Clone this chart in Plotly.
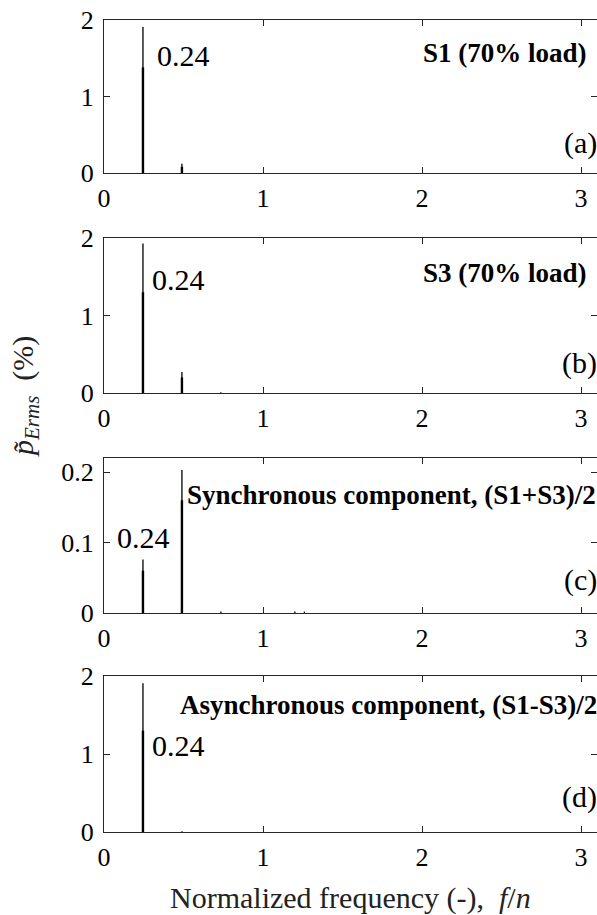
import plotly.graph_objects as go

# ---- data -------------------------------------------------------------
# Spectral peaks (normalized frequency f/n) and RMS amplitudes (%) per panel
freq_a = [0.245, 0.49]
amp_a = [1.91, 0.12]
shoulder_a = [1.38, 0.08]

freq_b = [0.245, 0.49, 0.735]
amp_b = [1.93, 0.27, 0.01]
shoulder_b = [1.30, 0.20, 0.0]

freq_c = [0.245, 0.49, 0.735, 1.20, 1.26]
amp_c = [0.076, 0.203, 0.002, 0.002, 0.002]
shoulder_c = [0.060, 0.160, 0.0, 0.0, 0.0]

freq_d = [0.245, 0.49]
amp_d = [1.906, 0.01]
shoulder_d = [1.30, 0.0]

panel_titles = ["S1 (70% load)", "S3 (70% load)",
                "Synchronous component, (S1+S3)/2",
                "Asynchronous component, (S1-S3)/2"]
panel_tags = ["(a)", "(b)", "(c)", "(d)"]
peak_label = "0.24"
y_ranges = [[0, 2], [0, 2], [0, 0.22], [0, 2]]
y_ticks = [[0, 1, 2], [0, 1, 2], [0, 0.1, 0.2], [0, 1, 2]]
y_ticktext = [["0", "1", "2"], ["0", "1", "2"], ["0", "0.1", "0.2"], ["0", "1", "2"]]
x_ticks = [0, 1, 2, 3]

# ---- layout geometry (pixels) -----------------------------------------
W, H = 597, 915
left_px = 104
panel_px = [(20, 173), (238, 393), (458, 613), (676, 832)]
label_xy = [(0.32, 1.54), (0.29, 1.46), (0.07, 0.107), (0.29, 1.11)]
title_px = [(589, 53), (589, 273), (598, 495), (599, 705)]
tag_px = [(599, 143), (599, 363), (599, 580), (599, 797)]

FONT = "Times New Roman, Liberation Serif, serif"
AXC = "#262626"

series = [(freq_a, amp_a, shoulder_a), (freq_b, amp_b, shoulder_b),
          (freq_c, amp_c, shoulder_c), (freq_d, amp_d, shoulder_d)]


def stems(freqs, vals):
    xs, ys = [], []
    for f, v in zip(freqs, vals):
        if v > 0:
            xs += [f, f, None]
            ys += [0, v, None]
    return xs, ys


fig = go.Figure()
layout = dict(
    width=W, height=H,
    margin=dict(l=0, r=0, t=0, b=0),
    paper_bgcolor="white", plot_bgcolor="white",
    showlegend=False,
    font=dict(family=FONT, color="black", size=26),
)

annotations = []
for i, ((top, bot), (fr, am, sh)) in enumerate(zip(panel_px, series)):
    n = i + 1
    xa = "x" if n == 1 else f"x{n}"
    ya = "y" if n == 1 else f"y{n}"
    # thin line up to the spectral maximum, thicker base from neighbouring bins
    x1, y1 = stems(fr, am)
    fig.add_trace(go.Scatter(x=x1, y=y1, mode="lines", xaxis=xa, yaxis=ya,
                             line=dict(color="black", width=1.3), hoverinfo="skip"))
    x2, y2 = stems(fr, sh)
    fig.add_trace(go.Scatter(x=x2, y=y2, mode="lines", xaxis=xa, yaxis=ya,
                             line=dict(color="black", width=2.4), hoverinfo="skip"))

    axis_common = dict(
        showline=True, linecolor=AXC, linewidth=1.2, mirror="ticks",
        ticks="inside", ticklen=6, tickwidth=1.2, tickcolor=AXC,
        showgrid=False, zeroline=False, automargin=False,
        tickfont=dict(family=FONT, size=26, color="black"),
    )
    layout["xaxis" if n == 1 else f"xaxis{n}"] = dict(
        axis_common, domain=[left_px / W, 1], range=[0, 3.1],
        tickvals=x_ticks, ticktext=[str(t) for t in x_ticks],
        anchor=ya, ticklabelstandoff=2,
    )
    layout["yaxis" if n == 1 else f"yaxis{n}"] = dict(
        axis_common, domain=[1 - bot / H, 1 - top / H], range=y_ranges[i],
        tickvals=y_ticks[i], ticktext=y_ticktext[i],
        anchor=xa, ticklabelstandoff=4,
    )

    lx, ly = label_xy[i]
    annotations.append(dict(x=lx, y=ly, xref=xa, yref=ya, text=peak_label,
                            showarrow=False, xanchor="left", yanchor="middle",
                            font=dict(family=FONT, size=30, color="black")))
    tx, ty = title_px[i]
    annotations.append(dict(x=tx / W, y=1 - ty / H, xref="paper", yref="paper",
                            text=f"<b>{panel_titles[i]}</b>", showarrow=False,
                            xanchor="right", yanchor="middle",
                            font=dict(family=FONT, size=27, color="black")))
    gx, gy = tag_px[i]
    annotations.append(dict(x=gx / W, y=1 - gy / H, xref="paper", yref="paper",
                            text=panel_tags[i], showarrow=False,
                            xanchor="right", yanchor="middle",
                            font=dict(family=FONT, size=30, color="black")))

annotations.append(dict(x=(left_px + W) / 2 / W, y=1 - 898 / H, xref="paper", yref="paper",
                        text="Normalized frequency (-),  <i>f</i>/<i>n</i>",
                        showarrow=False, xanchor="center", yanchor="middle",
                        font=dict(family=FONT, size=30, color="#222222")))
annotations.append(dict(x=25 / W, y=1 - 397 / H, xref="paper", yref="paper",
                        text="<i>p\u0303</i><sub><i>Erms</i></sub>  (%)",
                        showarrow=False, textangle=-90,
                        xanchor="center", yanchor="middle",
                        font=dict(family=FONT, size=30, color="#222222")))

layout["annotations"] = annotations
fig.update_layout(**layout)
fig.write_html("out.html")
